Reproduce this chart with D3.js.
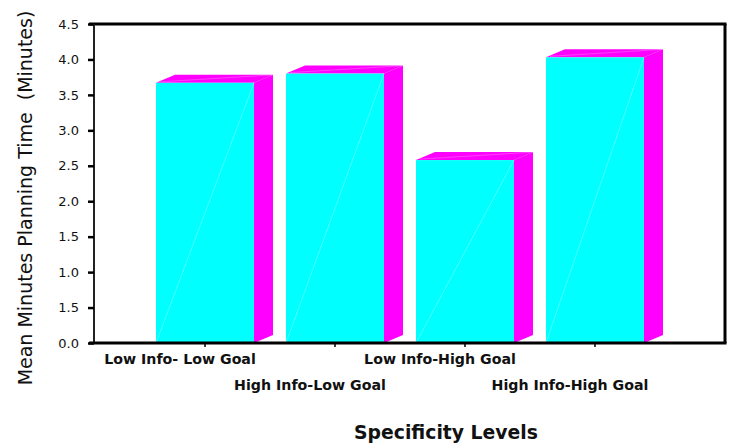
<!DOCTYPE html>
<html>
<head>
<meta charset="utf-8">
<script src="https://cdn.jsdelivr.net/npm/d3@7"></script>
<style>
  html, body { margin: 0; padding: 0; background: #fff; }
  svg { display: block; }
</style>
</head>
<body>
<svg id="chart" width="733" height="446"></svg>
<script>
// Mean planning time per specificity condition
const categories = ["Low Info- Low Goal", "High Info-Low Goal", "Low Info-High Goal", "High Info-High Goal"];
const meanMinutes = [3.67, 3.80, 2.58, 4.03];
const yTickValues = [0, 0.5, 1, 1.5, 2, 2.5, 3, 3.5, 4, 4.5];
const yTickLabels = ["0.0", "1.5", "1.0", "1.5", "2.0", "2.5", "3.0", "3.5", "4.0", "4.5"];
const yTitle = "Mean Minutes Planning Time  (Minutes)";
const xTitle = "Specificity Levels";

const svg = d3.select("#chart");
const plotLeft = 94, plotRight = 725, plotTop = 24, plotBottom = 343;
const depthX = 19, depthY = 8;

const x = d3.scaleBand()
  .domain(categories)
  .range([plotLeft, plotRight - depthX])
  .paddingInner(0.246)
  .paddingOuter(0.477);

const y = d3.scaleLinear().domain([0, 4.5]).range([plotBottom, plotTop]);

// bars: side, top, then front face
const bars = svg.append("g");
categories.forEach((c, i) => {
  const x0 = x(c), w = x.bandwidth();
  const yT = y(meanMinutes[i]), yB = y(0);
  const g = bars.append("g");
  g.append("polygon")
    .attr("points", [[x0 + w, yT], [x0 + w + depthX, yT - depthY], [x0 + w + depthX, yB - depthY], [x0 + w, yB]].join(" "))
    .attr("fill", "#ff00ff");
  g.append("polygon")
    .attr("points", [[x0, yT], [x0 + depthX, yT - depthY], [x0 + w + depthX, yT - depthY], [x0 + w, yT]].join(" "))
    .attr("fill", "#ff00ff");
  g.append("line")
    .attr("x1", x0 + 4).attr("y1", yT - 1).attr("x2", x0 + w + depthX).attr("y2", yT - depthY)
    .attr("stroke", "#ffffff").attr("stroke-opacity", 0.25).attr("stroke-width", 1);
  g.append("rect")
    .attr("x", x0).attr("y", yT).attr("width", w).attr("height", yB - yT)
    .attr("fill", "#00ffff");
  g.append("line")
    .attr("x1", x0).attr("y1", yB).attr("x2", x0 + w).attr("y2", yT)
    .attr("stroke", "#ffffff").attr("stroke-opacity", 0.3).attr("stroke-width", 1);
});

// frame
svg.append("line").attr("x1", 89).attr("x2", plotRight + 1.5).attr("y1", plotTop).attr("y2", plotTop)
  .attr("stroke", "#000").attr("stroke-width", 3);
svg.append("line").attr("x1", plotRight).attr("x2", plotRight).attr("y1", plotTop).attr("y2", plotBottom)
  .attr("stroke", "#000").attr("stroke-width", 3);

// y axis
const yAxis = d3.axisLeft(y)
  .tickValues(yTickValues)
  .tickSize(6)
  .tickPadding(9)
  .tickFormat((d, i) => yTickLabels[i]);
const gy = svg.append("g").attr("transform", `translate(${plotLeft},0)`).call(yAxis);
gy.select(".domain").attr("stroke", "#222").attr("stroke-width", 2).attr("d", `M0,${plotTop}V${plotBottom}`);
gy.selectAll(".tick line").attr("stroke", "#000").attr("stroke-width", 2.5);
gy.selectAll(".tick text")
  .attr("font-family", "DejaVu Sans, Verdana, sans-serif")
  .attr("font-size", 13).attr("fill", "#111");

// x axis
const xAxis = d3.axisBottom(x).tickSize(4).tickFormat("");
const gx = svg.append("g").attr("transform", `translate(0,${plotBottom})`).call(xAxis);
gx.select(".domain").remove();
gx.selectAll(".tick line").attr("stroke", "#000").attr("stroke-width", 1.5);
svg.append("line").attr("x1", 89).attr("x2", plotRight + 1.5).attr("y1", plotBottom).attr("y2", plotBottom)
  .attr("stroke", "#000").attr("stroke-width", 3);

// staggered category labels
svg.append("g").selectAll("text").data(categories).join("text")
  .attr("x", d => x(d) + x.bandwidth() / 2 - 25)
  .attr("y", (d, i) => i % 2 === 0 ? 364 : 390)
  .attr("text-anchor", "middle")
  .attr("font-family", "DejaVu Sans, Verdana, sans-serif")
  .attr("font-weight", "bold")
  .attr("font-size", 14.2)
  .attr("fill", "#111")
  .text(d => d);

// axis titles
svg.append("text")
  .attr("transform", "translate(32,198) rotate(-90)")
  .attr("text-anchor", "middle")
  .attr("font-family", "DejaVu Sans, Verdana, sans-serif")
  .attr("font-size", 19)
  .attr("fill", "#111")
  .style("white-space", "pre")
  .text(yTitle);

svg.append("text")
  .attr("x", 446).attr("y", 439)
  .attr("text-anchor", "middle")
  .attr("font-family", "DejaVu Sans, Verdana, sans-serif")
  .attr("font-weight", "bold")
  .attr("font-size", 18.8)
  .attr("fill", "#111")
  .text(xTitle);
</script>
</body>
</html>
